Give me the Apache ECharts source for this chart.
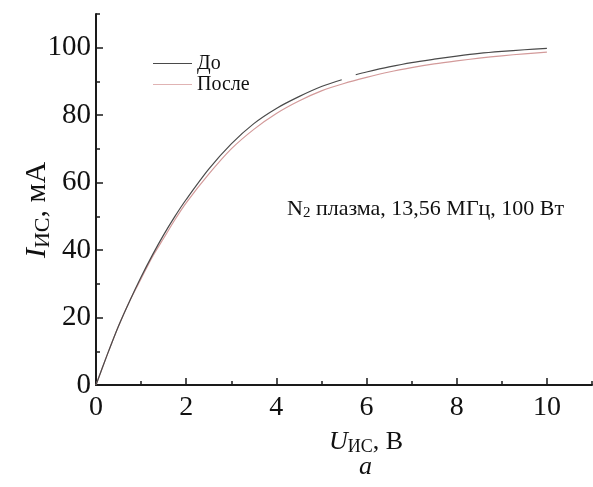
<!DOCTYPE html>
<html>
<head>
<meta charset="utf-8">
<script src="https://cdn.jsdelivr.net/npm/echarts@6/dist/echarts.min.js"></script>
<style>html,body{margin:0;padding:0;background:#fff;}#c{width:593px;height:487px;}</style>
</head>
<body>
<div id="c"></div>
<script>
// Data
const uDo    = [0, 0.25, 0.5, 0.75, 1.0, 1.25, 1.5, 1.75, 2.0, 2.5, 3.0, 3.5, 4.0, 4.5, 5.0, 5.45, 5.6, 5.76, 6.0, 6.5, 7.0, 7.5, 8.0, 8.5, 9.0, 9.5, 10.0];
const iDo    = [0, 9, 17.5, 25, 32, 38.5, 44.5, 50, 55, 64, 71.5, 77.5, 82, 85.5, 88.5, 90.5, null, 92, 92.8, 94.3, 95.6, 96.6, 97.5, 98.3, 98.9, 99.4, 99.8];
const uPosle = [0, 0.25, 0.5, 0.75, 1.0, 1.25, 1.5, 1.75, 2.0, 2.5, 3.0, 3.5, 4.0, 4.5, 5.0, 5.5, 6.0, 6.5, 7.0, 7.5, 8.0, 8.5, 9.0, 9.5, 10.0];
const iPosle = [0, 9, 17.5, 25, 31.5, 38, 43.5, 49, 54, 62.5, 70, 75.8, 80.5, 84.2, 87.2, 89.4, 91.2, 92.8, 94.1, 95.2, 96.1, 96.9, 97.6, 98.2, 98.7];
const seriesNames = ['До', 'После'];
const xMajor = [0, 2, 4, 6, 8, 10];
const xMinor = [1, 3, 5, 7, 9, 11];
const yMajor = [0, 20, 40, 60, 80, 100];
const yMinor = [10, 30, 50, 70, 90, 110];
const annotation = 'плазма, 13,56 МГц, 100 Вт';

const FONT = '"Liberation Serif", "Times New Roman", serif';
const AX = '#1a1a1a';
const C_DO = '#4a4a4a';
const C_PO = '#d39a9a';
const chart = echarts.init(document.getElementById('c'), null, {renderer: 'canvas'});

function pairs(xs, ys) { return xs.map((x, i) => [x, ys[i]]); }

const baseX = {type: 'value', min: 0, max: 11, position: 'bottom', offset: 0, splitLine: {show: false}};
const baseY = {type: 'value', min: 0, max: 110, position: 'left', offset: 0, splitLine: {show: false}};
const lineIcon = 'path://M0,0L40,0L40,1L0,1Z';

chart.setOption({
  animation: false,
  backgroundColor: '#fff',
  grid: {left: 96, right: 1, top: 14, bottom: 102, containLabel: false, outerBoundsMode: 'none'},
  legend: {
    orient: 'vertical', left: 148, top: 48,
    itemWidth: 39, itemHeight: 1.3, itemGap: 0,
    data: [
      {name: seriesNames[0], icon: lineIcon, itemStyle: {color: C_DO}},
      {name: seriesNames[1], icon: lineIcon, itemStyle: {color: '#e0b3b3'}}
    ],
    textStyle: {fontFamily: FONT, fontSize: 20, lineHeight: 21, color: '#111', padding: [0, 0, 0, 0]}
  },
  xAxis: [
    Object.assign({}, baseX, {
      name: '{i|U}{s|ИС}{n|, В}', nameLocation: 'middle', nameGap: 43,
      nameTextStyle: {fontFamily: FONT, color: '#111', padding: [0, 0, 0, 44],
        rich: {i: {fontFamily: FONT, fontSize: 26, fontStyle: 'italic', color: '#111'},
               s: {fontFamily: FONT, fontSize: 18, color: '#111', padding: [10, 0, 0, 0]},
               n: {fontFamily: FONT, fontSize: 26, color: '#111'}}},
      axisLine: {show: true, lineStyle: {color: AX, width: 2}},
      axisTick: {show: true, inside: true, length: 7, customValues: xMajor, lineStyle: {color: AX, width: 1.5}},
      axisLabel: {show: true, customValues: xMajor, margin: 9, fontFamily: FONT, fontSize: 28, color: '#111'}
    }),
    Object.assign({}, baseX, {
      axisLine: {show: false},
      axisTick: {show: true, inside: true, length: 4, customValues: xMinor, lineStyle: {color: AX, width: 1.5}},
      axisLabel: {show: false}
    })
  ],
  yAxis: [
    Object.assign({}, baseY, {
      name: '{i|I}{s|ИС}{n|, мА}', nameLocation: 'middle', nameGap: 42, nameRotate: 90, nameMoveOverlap: false,
      nameTextStyle: {fontFamily: FONT, color: '#111', padding: [0, 21, 0, 0],
        rich: {i: {fontFamily: FONT, fontSize: 30, fontStyle: 'italic', color: '#111'},
               s: {fontFamily: FONT, fontSize: 22, color: '#111', padding: [11, 0, 0, 0]},
               n: {fontFamily: FONT, fontSize: 30, color: '#111'}}},
      axisLine: {show: true, lineStyle: {color: AX, width: 2}},
      axisTick: {show: true, inside: true, length: 7, customValues: yMajor, lineStyle: {color: AX, width: 1.5}},
      axisLabel: {show: true, customValues: yMajor, margin: 5, fontFamily: FONT, fontSize: 29, color: '#111'}
    }),
    Object.assign({}, baseY, {
      axisLine: {show: false},
      axisTick: {show: true, inside: true, length: 4, customValues: yMinor, lineStyle: {color: AX, width: 1.5}},
      axisLabel: {show: false}
    })
  ],
  graphic: [
    {type: 'text', left: 287, top: 198, style: {
      text: '{a|N}{b|2}{a| ' + annotation + '}',
      rich: {a: {fontFamily: FONT, fontSize: 22, fill: '#111'},
             b: {fontFamily: FONT, fontSize: 15, fill: '#111', padding: [9, 0, 0, 0]}}}},
    {type: 'text', left: 359, top: 454, style: {text: 'a', fontFamily: FONT, fontSize: 26, fontStyle: 'italic', fill: '#111'}}
  ],
  series: [
    {name: seriesNames[0], type: 'line', xAxisIndex: 0, yAxisIndex: 0, data: pairs(uDo, iDo),
     smooth: 0.3, symbol: 'none', connectNulls: false, z: 3,
     lineStyle: {color: C_DO, width: 1.2}, itemStyle: {color: C_DO}},
    {name: seriesNames[1], type: 'line', xAxisIndex: 0, yAxisIndex: 0, data: pairs(uPosle, iPosle),
     smooth: 0.3, symbol: 'none', z: 2,
     lineStyle: {color: C_PO, width: 1.2}, itemStyle: {color: C_PO}}
  ]
});
</script>
</body>
</html>
